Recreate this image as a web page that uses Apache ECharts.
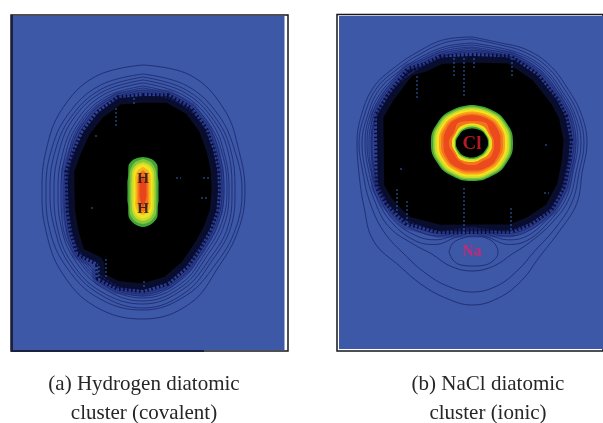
<!DOCTYPE html>
<html><head><meta charset="utf-8">
<style>html,body{margin:0;padding:0;background:#fff}#c{width:603px;height:423px;filter:blur(0.4px)}</style>
<script src="https://cdn.jsdelivr.net/npm/echarts@6/dist/echarts.min.js"></script>
</head><body><div id="c"></div>
<script>
// Captions
const captionsA = ["(a) Hydrogen diatomic", "cluster (covalent)"];
const captionsB = ["(b) NaCl diatomic", "cluster (ionic)"];

// Radial readings: angle in degrees clockwise from up, radius in panel units
const angleA = [0,22.5,45,67.5,90,112.5,135,157.5,180,202.5,225,247.5,270,292.5,315,337.5];
const contoursA = [
 [126,125,115,104,102,103,107,122,128,125,115,105,101,105,115,124],
 [117,114,107,100,99,100,103,113,119,116,108,101,97,100,107,114],
 [114,110,103,96,92,95,98,110,117,112,104,96,93,96,103,110],
 [111,107,100,93,89,92,95,106,113,109,101,93,89,92,100,107],
 [108,104,97,89,86,88,91,103,110,105,97,89,85,88,96,104],
 [105,101,94,87,84,85,88,100,107,102,94,87,82,85,93,101],
 [103,99,92,84,81,82,85,97,105,100,92,84,79,82,91,99],
 [101,97,90,82,79,80,83,95,103,98,90,82,77,80,89,97],
 [99,95,88,80,77,78,81,93,101,96,88,80,76,78,87,95]
];
const blobA = [[0,95],[15,98],[30,95],[45,88],[60,81],[75,77],[90,75],[105,76],[120,77],[135,80],[150,87],[165,95],[180,99],[195,100],[207,98],[212,85],[226,90],[240,82],[255,77],[270,75],[285,78],[300,79],[315,84],[330,90],[345,96]];
const capAngles = [0,15,30,45,60,90,120,135,150,165,180,195,210,225,240,270,300,315,330,345];
const capsule = [
 [34,33,29,21,18,15.5,18,21,29,34,36,34,29,21,18,15.5,18,21,29,33],
 [32,30,25,19,15.5,13.5,15.5,19,26,31,33,31,26,19,15.5,13.5,15.5,19,25,30],
 [29,27,22,16,13.5,11.5,13.5,16,22,28,30,28,22,16,13.5,11.5,13.5,16,22,27],
 [27,24.5,19,13.5,11,9.5,11,13.5,19,25,27.5,25,19,13.5,11,9.5,11,13.5,19,24.5],
 [24,21,15.5,10.5,8.7,7.5,8.7,10.5,15.5,21,24,21,15.5,10.5,8.7,7.5,8.7,10.5,15.5,21],
 [21,17,11,7.8,6.4,5.5,6.4,7.8,11,17,21,17,11,7.8,6.4,5.5,6.4,7.8,11,17],
 [16,10,7,5,4,3.5,4,5,7,10,16,10,7,5,4,3.5,4,5,7,10]
];
const capsuleColors = ['#3fa535','#86c63a','#c7dd2a','#f2e31e','#f9b21a','#f4761c','#e8441c'];

const angleB = [0,15,30,45,60,75,90,105,120,135,150,160,170,180,190,200,210,225,240,255,270,285,300,315,330,345];
const contoursB = [
 [106,104,108,110,110,113,115,114,121,124,133,146,157,162,157,150,143,139,125,117,115,114,113,108,106,107],
 [104,102,105,107,107,110,112,111,116,119,125,135,145,149,145,138,131,125,118,113,113,111,110,105,103,104],
 [100,99,102,104,104,107,109,108,112,113,115,118,125,128,125,118,117,118,113,110,110,108,107,102,100,100],
 [98,97,100,102,102,105,106,105,109,110,112,108,96,90,96,108,113,113,110,107,107,106,104,100,98,98],
 [96,95,98,100,100,103,104,103,106,107,108,103,93,88,93,103,108,110,107,105,105,104,102,98,96,96],
 [95,93,96,98,98,101,102,101,104,105,104,99,91,87,91,99,103,107,105,104,103,102,100,96,94,94],
 [93,92,95,96,96,99,100,99,103,103,101,96,90,86,90,96,100,105,104,102,101,100,98,94,92,92],
 [91,91,94,95,95,98,99,98,101,102,98,94,88,85,88,94,97,103,103,101,100,99,97,93,91,91]
];
const blobB = [[0,87],[24,94],[44,94],[63,95],[74,97],[88,98],[100,98],[115,101],[130,103],[144,99],[156,96],[180,88],[200,94],[219,103],[227,103],[235,104],[245,104],[286,99],[299,96],[319,97],[329,91],[340,91]];
const ringAngles = [0,30,60,90,120,150,180,210,240,270,300,330];
const ring = [
 [38,38.5,40,41,40,38.5,38,38.5,40,41,40,38.5],
 [36.5,37,38.5,39,38.5,37,36.5,37,38.5,39,38.5,37],
 [35,35.5,37,37.5,37,35.5,35,35.5,37,37.5,37,35.5],
 [33.5,34,35,35.5,35,34,33.5,34,35,35.5,35,34],
 [31.5,32,33,33,33,32,31.5,32,33,33,33,32],
 [29.5,30,31,31,31,30,29.5,30,31,31,31,30],
 [28,28.5,29,28.5,29,28.5,27.5,28.5,29,28.5,29,28.5],
 [22,24,21,22,23,21,22,22,21,23,21,24],
 [19.5,20,19,20,20,18.5,19,20,19,20,19,20],
 [18,18,17.5,18.5,18,17,17.5,18,18,18,17.5,18],
 [16.5,16.5,16.5,17,16.5,16,16,16.5,17,17,16.5,16.5],
 [14.5,15,15.5,16,15,14.5,14.5,15,15.5,16,15,15]
];
const ringColors = ['#3fa535','#86c63a','#c7dd2a','#f2e31e','#f9a21a','#f4761c','#ea4a1c','#f4761c','#f2e31e','#c7dd2a','#3fa535','#000000'];

// Closed Na loop and short streaks, in panel units
const naLoop = [[110,236],[114,227],[124,222],[135,220],[147,222],[156,228],[159,237],[155,244],[146,249],[134,250],[122,249],[114,244],[110,236]];
const streaksA = [[[164,162],[169,162]],[[191,162],[197,162]],[[189,182],[197,182]],[[79,192],[82,192]],[[104,92],[104,112]],[[94,243],[94,262]],[[87,250],[87,265]],[[122,82],[122,88]],[[132,265],[132,272]],[[83,120],[87,120]]];
const streaksB = [[[125,42],[125,82]],[[125,172],[125,217]],[[135,42],[135,52]],[[115,42],[115,62]],[[173,42],[173,62]],[[78,60],[78,82]],[[206,129],[210,129]],[[61,153],[65,153]],[[68,185],[68,212]],[[172,192],[172,217]],[[205,177],[210,177]],[[58,173],[58,198]]];
// Atom labels [x, y, text] in panel units
const atomsA = [[131,163,'H'],[131,193,'H']];
const atomCl = [[133,128,'Cl']];
const atomNa = [[133,236,'Na']];

const R = 200, contourColor = '#1f2b72';
const close = (angles, radii) => angles.map((a,i)=>[radii[i],a]).concat([[radii[0],angles[0]]]);
const closePairs = pairs => pairs.map(p=>[p[1],p[0]]).concat([[pairs[0][1],pairs[0][0]]]);
const contour = (p,data) => ({type:'line',coordinateSystem:'polar',polarIndex:p,data,symbol:'none',smooth:0.4,silent:true,
  lineStyle:{color:contourColor,width:0.9}});
const filled = (p,data,color,smooth) => ({type:'line',coordinateSystem:'polar',polarIndex:p,data,symbol:'none',smooth,silent:true,
  lineStyle:{width:0},areaStyle:{color,opacity:1}});
const halo = (p,data) => ({type:'line',coordinateSystem:'polar',polarIndex:p,data,symbol:'none',silent:true,
  lineStyle:{color:'#1a2470',width:13,opacity:0.4}});
const teeth = (p,data) => ({type:'line',coordinateSystem:'polar',polarIndex:p,data,symbol:'none',silent:true,
  lineStyle:{color:'#070b38',width:6,type:[1.5,2.5]}});
const streak = (g,list) => ({type:'line',xAxisIndex:g,yAxisIndex:g,symbol:'none',silent:true,connectNulls:false,z:8,
  data:list.flatMap(s=>[s[0],s[1],null]),lineStyle:{color:'#2f66b8',width:1,type:[2,2]}});
const labels = (g,data,color,size) => ({type:'scatter',xAxisIndex:g,yAxisIndex:g,data,symbolSize:1,silent:true,z:20,itemStyle:{color:'rgba(0,0,0,0)'},
  label:{show:true,position:'inside',formatter:p=>p.value[2],color,fontFamily:'Liberation Serif',fontWeight:'bold',fontSize:size}});

const series = [];
contoursA.forEach(c=>series.push(contour(0,close(angleA,c))));
series.push(halo(0,closePairs(blobA)));
series.push(filled(0,closePairs(blobA),'#000',false));
series.push(teeth(0,closePairs(blobA)));
capsule.forEach((c,i)=>series.push(filled(0,close(capAngles,c),capsuleColors[i],0.3)));
contoursB.forEach(c=>series.push(contour(1,close(angleB,c))));
series.push(halo(1,closePairs(blobB)));
series.push(filled(1,closePairs(blobB),'#000',false));
series.push(teeth(1,closePairs(blobB)));
ring.forEach((c,i)=>series.push(filled(1,close(ringAngles,c),ringColors[i],0.5)));
series.push(streak(1,streaksA));
series.push(streak(3,streaksB));
series.push(labels(1,atomsA,'#111',15));
series.push(labels(3,atomCl,'#e0202c',19));
series.push(labels(3,atomNa,'#e0206a',16));
series.push({type:'line',xAxisIndex:3,yAxisIndex:3,data:naLoop,smooth:0.4,symbol:'none',silent:true,lineStyle:{color:contourColor,width:0.9}});

const blue = '#3c58a6', frame = '#14161e';
const grids = [
 {left:11,top:15,width:277,height:336,show:true,backgroundColor:'#fff',borderColor:frame,borderWidth:1.5},
 {left:12,top:16,width:272.5,height:334,show:true,backgroundColor:blue,borderWidth:0},
 {left:337,top:14.5,width:266,height:336.5,show:true,backgroundColor:'#fff',borderColor:frame,borderWidth:1.5},
 {left:339,top:16,width:264,height:333,show:true,backgroundColor:blue,borderWidth:0}
];
const hiddenAxis = (i,max,inverse) => ({type:'value',gridIndex:i,min:0,max,inverse,show:false});
const polarAxes = [0,1];
const cap = (text,left,top) => ({text,left,top,padding:0,textAlign:'center',textStyle:{fontFamily:'Liberation Serif',fontWeight:'normal',fontSize:21,color:'#262626'}});
const option = {
 animation:false,
 title:[cap(captionsA[0],144,374),cap(captionsA[1],144,403),cap(captionsB[0],488,374),cap(captionsB[1],488,403)],
 grid:grids,
 xAxis:[hiddenAxis(0,277,false),hiddenAxis(1,272.5,false),hiddenAxis(2,266,false),hiddenAxis(3,264,false)],
 yAxis:[hiddenAxis(0,336,true),hiddenAxis(1,334,true),hiddenAxis(2,336.5,true),hiddenAxis(3,333,true)],
 polar:[{center:[143,191],radius:R},{center:[472,143],radius:R}],
 radiusAxis:polarAxes.map(i=>({polarIndex:i,min:0,max:R,show:false})),
 angleAxis:polarAxes.map(i=>({polarIndex:i,type:'value',min:0,max:360,startAngle:90,clockwise:true,show:false})),
 graphic:[{type:'line',shape:{x1:11,y1:351,x2:204,y2:351},style:{stroke:'#1a2040',lineWidth:2}},
          {type:'line',shape:{x1:12,y1:15,x2:12,y2:351},style:{stroke:'#1a2040',lineWidth:2}}],
 series
};
const chart = echarts.init(document.getElementById('c'),null,{renderer:'canvas',width:603,height:423});
chart.setOption(option);
</script></body></html>
